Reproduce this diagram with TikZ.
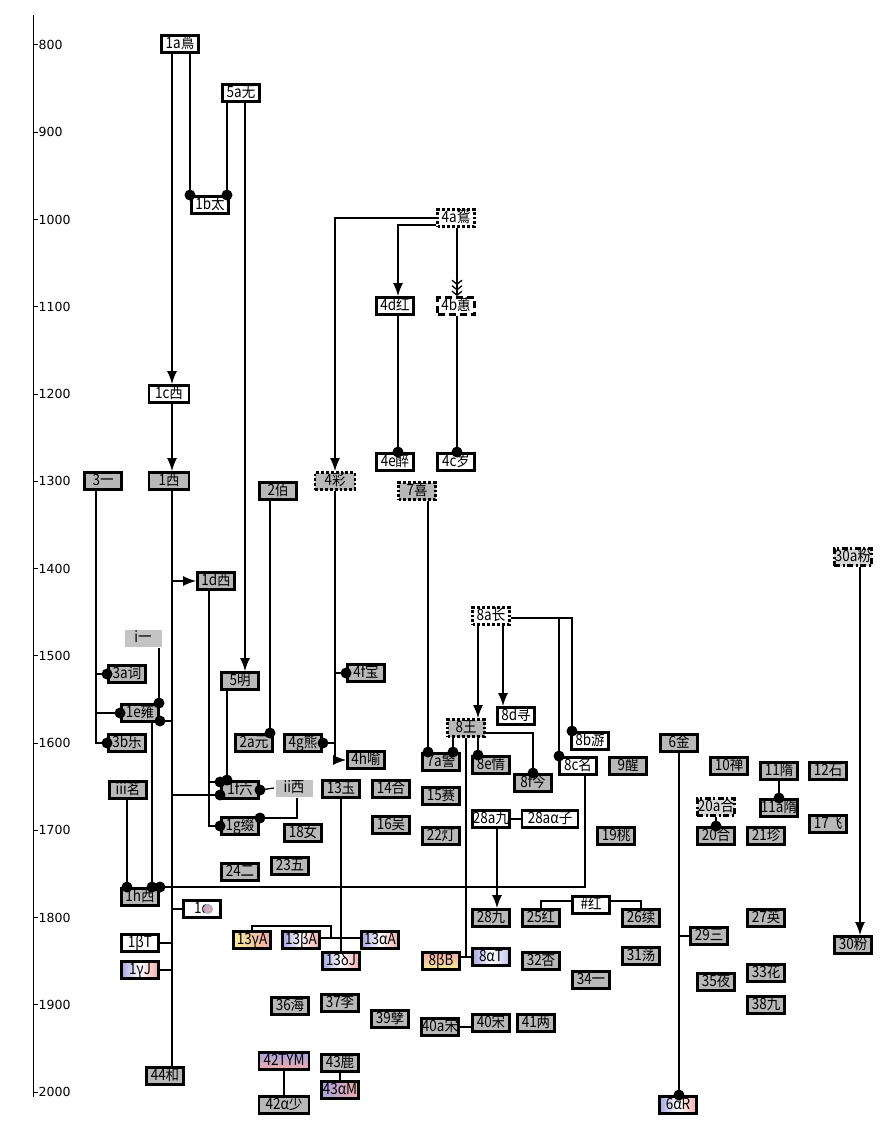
\documentclass[tikz,border=0pt]{standalone}
\usepackage{fontspec}
\newfontfamily\cjkfnt[FakeStretch=0.87]{Noto Sans CJK SC}
\newfontfamily\axfnt{DejaVu Sans}
\usetikzlibrary{arrows.meta}
\definecolor{boxgray}{RGB}{184,184,184}
\definecolor{lightg}{RGB}{196,196,196}
\definecolor{gblue}{RGB}{165,165,225}
\definecolor{gpink}{RGB}{242,170,170}
\definecolor{gyell}{RGB}{245,235,150}
\begin{document}
\begin{tikzpicture}[x=1pt,y=-1pt,
  nb/.style={draw, line width=2.9pt, minimum width=37pt, minimum height=17pt, inner xsep=0.5pt, inner ysep=0.5pt, text height=11pt, text depth=2.5pt, font=\cjkfnt\fontsize{15.5}{15.5}\selectfont},
  wb/.style={nb, fill=white},
  gb/.style={nb, fill=boxgray},
  gdot/.style={gb, dash pattern=on 2.9pt off 2pt},
  wdot/.style={wb, dash pattern=on 2.9pt off 2pt},
  wdash/.style={wb, dash pattern=on 7pt off 4pt},
  gdd/.style={nb, fill=boxgray!55, dash pattern=on 6pt off 2.5pt on 2pt off 2.5pt},
  lb/.style={nb, draw=none, fill=lightg},
  bwp/.style={nb, left color=gblue, right color=gpink, middle color=white},
  bp/.style={nb, left color=gblue, right color=gpink},
  yp/.style={nb, left color=gyell, right color=gpink},
  pyv/.style={nb, top color=gpink, bottom color=gyell},
  bpv/.style={nb, top color=gblue, bottom color=gpink},
  bwb/.style={nb, left color=gblue, right color=gblue!70, middle color=white},
  ln/.style={line width=1.3pt},
  arr/.style={ln, -{Latex[length=13pt,width=10pt]}},
  axl/.style={anchor=west, inner sep=0pt, font=\axfnt\fontsize{12.5}{12.5}\selectfont}
]
\useasboundingbox (0,0) rectangle (894,1140);
% axis
\draw[line width=1pt] (33,15) -- (33,1097);
\foreach \yr [evaluate=\yr as \yy using {45+(\yr-800)*0.8725}] in {800,900,...,2000} {
  \draw[line width=1pt] (33,\yy) -- (38,\yy);
  \node[axl] (ax\yr) at (38.5,\yy) {\yr};
}
% trunk coordinates
\foreach \xx in {96,127,152,159,160,172,190,209,227,245,270,297,331,335,341,398,400,428,453,457,466,478,497,503,559,572,585,679,860}
  \coordinate (X\xx) at (\xx,0);
% nodes
\node[wb] (n1a) at (180,44) {1a蔦};
\node[wb] (n5a) at (241,93) {5a无};
\node[wb] (n1b) at (210,205) {1b太};
\node[wdot] (n4a) at (456,218) {4a鴛};
\node[wb] (n4d) at (395,306) {4d红};
\node[wdash] (n4b) at (456,306) {4b蕙};
\node[wb, minimum width=40] (n1c) at (169,394) {1c西};
\node[wb] (n4e) at (395,462) {4e醉};
\node[wb] (n4c) at (456,462) {4c岁};
\node[gb] (n3) at (103,481) {3一};
\node[gb, minimum width=40] (n1) at (169,481) {1西};
\node[gdot, minimum width=40] (n4) at (335,481) {4彩};
\node[gdot] (n7) at (417,491) {7喜};
\node[gb] (n2) at (278,491) {2佰};
\node[gdd] (n30a) at (853,557) {30a粉};
\node[gb] (n1d) at (216,581) {1d西};
\node[wdot] (n8a) at (491,616) {8a长};
\node[lb] (ni) at (143,638) {i一};
\node[gb] (n3a) at (127,674) {3a词};
\node[gb] (n4f) at (366,673) {4f宝};
\node[gb] (n5) at (240,681) {5明};
\node[gb] (n1e) at (140,713) {1e雍};
\node[wb] (n8d) at (516,716) {8d寻};
\node[gdot] (n8) at (466,728) {8王};
\node[gb] (n3b) at (127,743) {3b乐};
\node[gb] (n2a) at (254,743) {2a元};
\node[gb] (n4g) at (303,743) {4g熊};
\node[gb] (n6) at (679,743) {6金};
\node[wb] (n8b) at (590,741) {8b游};
\node[gb] (n4h) at (366,760) {4h喻};
\node[gb] (n7a) at (441,762) {7a警};
\node[gb] (n8e) at (491,765) {8e情};
\node[wb] (n8c) at (578,766) {8c名};
\node[gb] (n9) at (628,766) {9醒};
\node[gb] (n10) at (729,766) {10禅};
\node[gb] (n11) at (779,771) {11隋};
\node[gb] (n12) at (828,771) {12石};
\node[gb] (n8f) at (533,783) {8f今};
\node[gb] (n13) at (341,789) {13玉};
\node[gb] (n14) at (391,789) {14合};
\node[gb] (n15) at (441,796) {15赛};
\node[gb] (n1f) at (240,790) {1f六};
\node[lb] (nii) at (294,788) {ii西};
\node[gb] (niii) at (128,790) {iii茗};
\node[gdd] (n20a) at (716,807) {20a合};
\node[gb] (n11a) at (779,808) {11a隋};
\node[gb] (n17) at (828,824) {17飞};
\node[wb] (n28a) at (491,819) {28a九};
\node[wb, minimum width=56] (n28aa) at (550,819) {28aα子};
\node[gb] (n16) at (391,825) {16吴};
\node[gb] (n1g) at (240,826) {1g缀};
\node[gb] (n18) at (303,833) {18女};
\node[gb] (n20) at (716,836) {20合};
\node[gb] (n21) at (766,836) {21珍};
\node[gb] (n22) at (441,836) {22灯};
\node[gb] (n19) at (616,836) {19桃};
\node[gb] (n23) at (290,866) {23五};
\node[gb] (n24) at (240,872) {24二};
\node[gb] (n1h) at (140,897) {1h西};
\node[wb] (nhash) at (591,905) {\#红};
\node[wb] (n1al) at (202,909) {1α\hspace{13pt}};
\node[gb] (n28) at (491,918) {28九};
\node[gb] (n25) at (541,918) {25红};
\node[gb] (n26) at (641,918) {26续};
\node[gb] (n27) at (766,918) {27英};
\node[gb] (n29) at (709,936) {29三};
\node[yp] (n13g) at (252,940) {13γA};
\node[bwp] (n13b) at (301,940) {13βA};
\node[bwp] (n13a) at (380,940) {13αA};
\node[wb] (n1bT) at (140,943) {1βT};
\node[gb] (n30) at (853,945) {30粉};
\node[bwb] (n8aT) at (491,957) {8αT};
\node[gb] (n31) at (641,956) {31荡};
\node[bwp] (n13d) at (341,961) {13δJ};
\node[pyv] (n8bB) at (441,961) {8βB};
\node[gb] (n32) at (541,961) {32杏};
\node[bwp] (n1gJ) at (140,970) {1γJ};
\node[gb] (n33) at (766,973) {33花};
\node[gb] (n34) at (591,980) {34一};
\node[gb] (n35) at (716,982) {35夜};
\node[gb] (n37) at (340,1003) {37李};
\node[gb] (n38) at (766,1005) {38九};
\node[gb] (n36) at (290,1006) {36海};
\node[gb] (n39) at (390,1019) {39孽};
\node[gb] (n40) at (491,1023) {40宋};
\node[gb] (n41) at (536,1023) {41两};
\node[gb] (n40a) at (440,1027) {40a宋};
\node[bpv, minimum width=50] (n42) at (284,1061) {42TYM};
\node[gb] (n43) at (340,1063) {43鹿};
\node[gb] (n44) at (165,1076) {44和};
\node[bp] (n43a) at (340,1090) {43αM};
\node[gb, minimum width=50] (n42a) at (284,1105) {42α少};
\node[bwp] (n6a) at (678,1105) {6αR};
\shade[inner color=gpink, outer color=gblue!80!black!70] ([xshift=6pt]n1al.center) circle (5);
% connectors
\draw[arr] (n1a.south -| X172) -- (n1c.north -| X172);
\draw[ln] (n1a.south -| X190) -- (n1b.north -| X190);
\draw[ln] (n5a.south -| X227) -- (n1b.north -| X227);
\draw[arr] (n5a.south -| X245) -- (n5.north -| X245);
\draw[arr] (n1c.south -| X172) -- (n1.north -| X172);
\draw[arr] (n4a.west) -| (n4.north);
\draw[arr] ([yshift=-7pt]n4a.west) -| (n4d.north -| X398);
\draw[ln, -{Straight Barb[length=4pt,width=10pt] Straight Barb[length=4pt,width=10pt] Straight Barb[length=4pt,width=10pt]}] (n4a.south -| X457) -- (n4b.north -| X457);
\draw[ln] (n4d.south -| X398) -- (n4e.north -| X398);
\draw[ln] (n4b.south -| X457) -- (n4c.north -| X457);
\draw[ln] (n3.south -| X96) |- (n3b.west);
\draw[ln] (X96 |- n3a.west) -- (n3a.west);
\draw[ln] (X96 |- n1e.west) -- (n1e.west);
\draw[ln] (n1.south -| X172) -- (n44.north -| X172);
\draw[arr] (X172 |- n1d.west) -- (n1d.west);
\draw[ln] ([yshift=-8pt]n1e.east) -- ([yshift=-8pt]n1e.east -| X172);
\draw[ln] ([yshift=-5pt]n1f.west) -- ([yshift=-5pt]n1f.west -| X172);
\draw[ln] (n1al.west) -- (n1al.west -| X172);
\draw[ln] (n1bT.east) -- (n1bT.east -| X172);
\draw[ln] (n1gJ.east) -- (n1gJ.east -| X172);
\draw[ln] (ni.south -| X159) -- (n1e.north -| X159);
\draw[ln] (n1e.south -| X152) -- (n1h.north -| X152);
\draw[ln] (niii.south -| X127) -- (n1h.north -| X127);
\draw[ln] (n1h.north -| X160) -| (n8c.south -| X585);
\draw[ln] (n2.south -| X270) -- (n2a.north -| X270);
\draw[ln] (n1d.south -| X209) |- (n1g.west);
\draw[ln] ([yshift=8pt]n1f.west -| X209) -- ([yshift=8pt]n1f.west);
\draw[ln] (n5.south -| X227) -- (n1f.north -| X227);
\draw[ln] (n1f.east) -- (nii.west);
\draw[ln] (nii.south -| X297) |- ([yshift=8pt]n1g.east);
\draw[arr] (n4.south) |- (n4h.west);
\draw[ln] (X335 |- n4f.west) -- (n4f.west);
\draw[ln] (n4g.east) -- (n4g.east -| X335);
\draw[ln] (n7.south -| X428) -- (n7a.north -| X428);
\draw[arr] (n8a.south -| X478) -- (n8.north -| X478);
\draw[arr] (n8a.south -| X503) -- (n8d.north -| X503);
\draw[ln] ([yshift=-2pt]n8a.east) -| (n8b.north -| X572);
\draw[ln] ([yshift=-2pt]n8a.east -| X559) -- (n8c.north -| X559);
\draw[ln] (n8.south -| X453) -- (n7a.north -| X453);
\draw[ln] (n8.south -| X478) -- (n8e.north -| X478);
\draw[ln] ([yshift=-5pt]n8.east) -| (n8f.north);
\draw[ln] (n8.south -| X466) |- (n8aT.west);
\draw[ln] (n8bB.east |- n8aT.west) -- (n8aT.west);
\draw[ln] (n13.south -| X341) -- (n13d.north -| X341);
\draw[ln] ([yshift=2pt]n13b.east) -- ([yshift=2pt]n13b.east -| n13a.west);
\draw[ln] (n13g.north) -- ++(0,-4) -| ([yshift=2pt]n13b.east -| X331);
\draw[ln] (n28a.east) -- (n28aa.west);
\draw[arr] (n28a.south -| X497) -- (n28.north -| X497);
\draw[ln] ([yshift=4pt]nhash.west) -| (n25.north);
\draw[ln] ([yshift=4pt]nhash.east) -| (n26.north);
\draw[ln] (n6.south -| X679) -- (n6a.north -| X679);
\draw[ln] (X679 |- n29.west) -- (n29.west);
\draw[ln] (n11.south) -- (n11a.north);
\draw[ln] (n20a.south) -- (n20.north);
\draw[arr] (n30a.south -| X860) -- (n30.north -| X860);
\draw[ln] (n40a.east) -- (n40a.east -| n40.west);
\draw[ln] (n42.south) -- (n42a.north);
\draw[ln] (n43.south) -- (n43a.north);
% dots
\foreach \p in {(n1b.north -| X190),(n1b.north -| X227),(n4e.north -| X398),(n4c.north -| X457),
  (n3a.west),(n1e.west),(n3b.west),([yshift=-8pt]n1e.east),([yshift=-5pt]n1f.west),
  (n1e.north -| X159),(n1h.north -| X152),(n1h.north -| X127),(n1h.north -| X160),
  (n2a.north -| X270),(n1g.west),([yshift=8pt]n1f.west),(n1f.north -| X227),(n1f.east),
  ([yshift=8pt]n1g.east),(n4f.west),(n4g.east),(n7a.north -| X428),(n8b.north -| X572),
  (n8c.north -| X559),(n7a.north -| X453),(n8e.north -| X478),(n8f.north),
  (n6a.north -| X679),(n11a.north),(n20.north)}
  \fill \p circle (5.5);
\end{tikzpicture}
\end{document}
